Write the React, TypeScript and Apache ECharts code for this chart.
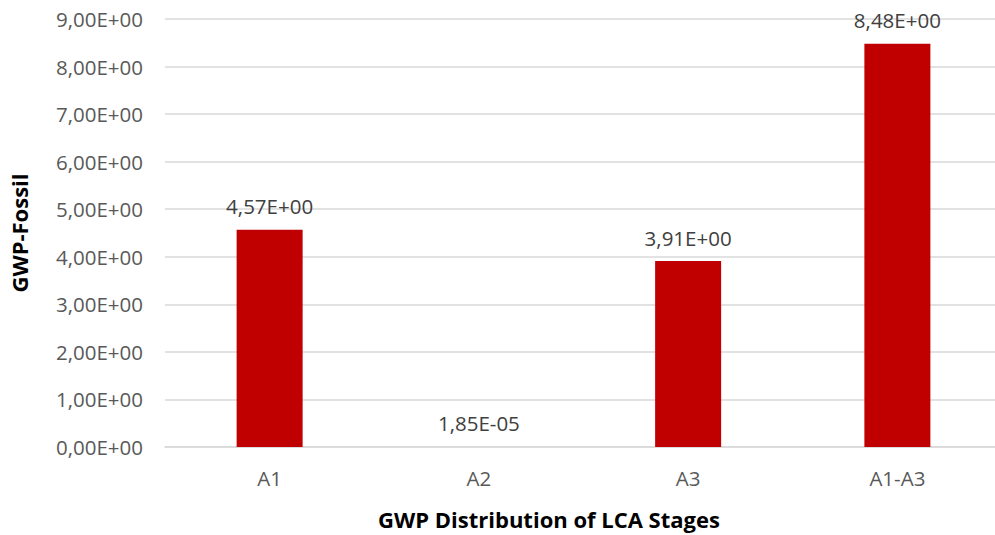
import React, { useEffect, useRef } from "react";
import * as echarts from "echarts";

const categories = ["A1", "A2", "A3", "A1-A3"];
const values = [4.57, 1.85e-5, 3.91, 8.48];
const yMin = 0;
const yMax = 9;
const yInterval = 1;
const xTitle = "GWP Distribution of LCA Stages";
const yTitle = "GWP-Fossil";

function fmtSci(v: number): string {
  const s = v.toExponential(2);
  const [mant, exp] = s.split("e");
  const sign = exp[0] === "-" ? "-" : "+";
  const digits = exp.replace(/^[+-]/, "").padStart(2, "0");
  return mant.replace(".", ",") + "E" + sign + digits;
}

const FONT = "'Open Sans', 'Liberation Sans', sans-serif";

export default function App() {
  const ref = useRef<HTMLDivElement>(null);
  useEffect(() => {
    document.body.style.margin = "0";
    const chart = echarts.init(ref.current!, null, { renderer: "svg" });
    chart.setOption({
      animation: false,
      backgroundColor: "#ffffff",
      grid: { left: 160, top: 19, width: 842, height: 428, containLabel: false },
      title: {
        text: xTitle,
        left: 544,
        top: 503,
        textAlign: "center",
        textStyle: { fontFamily: FONT, fontSize: 22, fontWeight: "bold", color: "#000000" },
      },
      xAxis: {
        type: "category",
        data: categories,
        axisLine: { show: true, lineStyle: { color: "#D9D9D9", width: 1.5 } },
        axisTick: { show: false },
        axisLabel: { fontFamily: FONT, fontSize: 20.5, color: "#595959", margin: 20 },
      },
      yAxis: {
        type: "value",
        min: yMin,
        max: yMax,
        interval: yInterval,
        name: yTitle,
        nameLocation: "middle",
        nameGap: 135,
        nameRotate: 90,
        nameTextStyle: { fontFamily: FONT, fontSize: 22, fontWeight: "bold", color: "#000000" },
        axisLine: { show: false },
        axisTick: { show: false },
        splitLine: { lineStyle: { color: "#D9D9D9", width: 1.5 } },
        axisLabel: {
          fontFamily: FONT,
          fontSize: 20.5,
          color: "#595959",
          margin: 22,
          formatter: (v: number) => fmtSci(v),
        },
      },
      series: [
        {
          type: "bar",
          data: values,
          barWidth: 66,
          itemStyle: { color: "#C00000" },
          label: {
            show: true,
            position: "top",
            distance: 13,
            fontFamily: FONT,
            fontSize: 20.5,
            color: "#404040",
            formatter: (p: any) => fmtSci(p.value),
          },
        },
      ],
    });
    return () => chart.dispose();
  }, []);
  return (
    <div style={{ width: 995, height: 535, overflow: "hidden", position: "relative" }}>
      <div ref={ref} style={{ width: 1010, height: 535 }} />
    </div>
  );
}
